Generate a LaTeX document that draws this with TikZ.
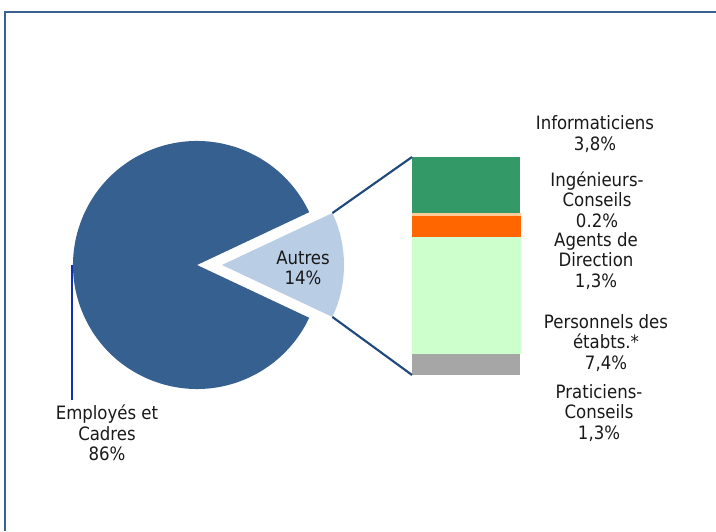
\documentclass[tikz,border=0pt]{standalone}
\usepackage{fontspec}
\setmainfont{DejaVu Sans Condensed}
\definecolor{pieblue}{RGB}{54,96,143}
\definecolor{sliceblue}{RGB}{185,205,229}
\definecolor{frameblue}{RGB}{58,97,145}
\definecolor{joinblue}{RGB}{31,73,125}
\definecolor{leadblue}{RGB}{16,48,176}
\definecolor{infocol}{RGB}{51,153,102}
\definecolor{ingcol}{RGB}{255,204,153}
\definecolor{agcol}{RGB}{255,102,0}
\definecolor{perscol}{RGB}{204,255,204}
\definecolor{pratcol}{RGB}{166,166,166}
\tikzset{
    lbl/.style={align=center, inner sep=0pt, text=black!90,
        font=\fontsize{13.8}{15.4}\selectfont},
    joinline/.style={joinblue, line width=1.6pt},
    leader/.style={leadblue, line width=1.4pt}
}

\begin{document}
\begin{tikzpicture}[x=0.75pt,y=0.75pt]
\useasboundingbox (0,0) rectangle (716,531);

\draw[frameblue, line width=2.2pt] (5,0) |- (716,519);

\coordinate (c) at (197,266);
\coordinate (a) at (222,266);

\fill[pieblue] (c) -- ++(25.2:124) arc[start angle=25.2, end angle=334.8, radius=124] -- cycle;
\fill[sliceblue] (a) -- ++(-25.2:122) coordinate (sb)
    arc[start angle=-25.2, end angle=25.2, radius=122] coordinate (st) -- cycle;

\fill[infocol] (412,318) rectangle (520,374);
\fill[ingcol] (412,314.5) rectangle (521,318);
\fill[agcol] (412,294) rectangle (521,314.5);
\fill[perscol] (412,177) rectangle (521,294);
\fill[pratcol] (412,156) rectangle (520,177);

\coordinate (bt) at (412,374);
\coordinate (bb) at (412,156);
\coordinate (pl) at (72,266);
\coordinate (pe) at (72,131);

\node[lbl] at (303,263) (autres) {Autres\\14\%};
\node[lbl] at (107,98) (emp) {Employés et\\Cadres\\86\%};

\node[lbl] at (595,397) (info) {Informaticiens\\3,8\%};
\node[lbl] at (597,331.5) (ing) {Ingénieurs-\\Conseils\\0.2\%};
\node[lbl] at (596,270) (ag) {Agents de\\Direction\\1,3\%};
\node[lbl] at (606,188) (pers) {Personnels des\\étabts.*\\7,4\%};
\node[lbl] at (599,118) (prat) {Praticiens-\\Conseils\\1,3\%};

\draw[joinline] (st) -- (bt);
\draw[joinline] (sb) -- (bb);
\draw[leader] (pl) -- (pe);
\end{tikzpicture}
\end{document}
